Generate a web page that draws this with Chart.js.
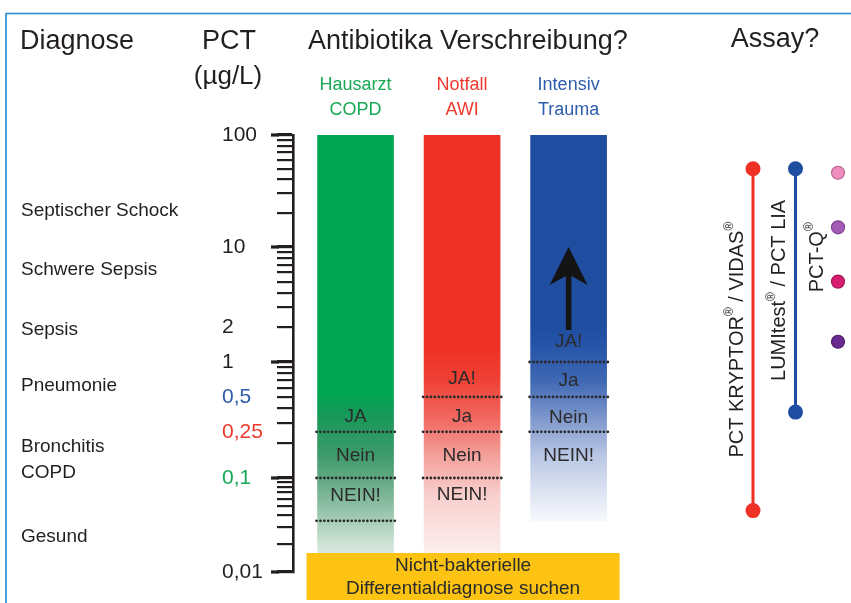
<!DOCTYPE html>
<html>
<head>
<meta charset="utf-8">
<script src="https://cdn.jsdelivr.net/npm/chart.js@4.4.1/dist/chart.umd.min.js"></script>
<style>
  html, body { margin: 0; padding: 0; background: #fff; }
  #wrap { position: relative; width: 851px; height: 603px; }
  #wrap canvas { position: absolute; left: 0; top: 0; }
</style>
</head>
<body>
<div id="wrap">
  <canvas id="main" width="851" height="603"></canvas>
  <canvas id="assay" width="851" height="603"></canvas>
</div>
<script>
// PCT (µg/L) guide: diagnosis, antibiotic decision per setting, assay ranges

// Settings (bars)
const settings = [['Hausarzt', 'COPD'], ['Notfall', 'AWI'], ['Intensiv', 'Trauma']];
const barLow = [0.013, 0.013, 0.035];
const barHigh = [100, 100, 100];
const solidDownTo = [0.5, 1.3, 2];

// Cut-offs (dotted lines) and decision labels per setting
const cutoffs = [[0.25, 0.1, 0.035], [0.5, 0.25, 0.1], [1, 0.5, 0.25]];
const decisions = [['JA', 'Nein', 'NEIN!'], ['JA!', 'Ja', 'Nein', 'NEIN!'], ['JA!', 'Ja', 'Nein', 'NEIN!']];
const decisionPct = [[0.34, 0.155, 0.064], [0.71, 0.335, 0.155, 0.066], [1.5, 0.69, 0.33, 0.155]];

// Arrow in the ICU bar
const arrowFrom = 1.9;
const arrowTo = 10;

// Diagnoses and typical PCT level
const diagnoses = ['Septischer Schock', 'Schwere Sepsis', 'Sepsis', 'Pneumonie', 'Bronchitis\nCOPD', 'Gesund'];
const diagnosisPct = [21, 6.3, 1.9, 0.63, 0.143, 0.0236];

// PCT axis
const yTicks = [];
for (let e = -2; e <= 1; e++) for (let m = 1; m <= 9; m++) yTicks.push(parseFloat(m + 'e' + e));
yTicks.push(100, 0.25);
const yTickLabels = [100, 10, 2, 1, 0.5, 0.25, 0.1, 0.01];
const majorTicks = [0.01, 0.1, 1, 10, 100];

// Assays
const assays = ['PCT KRYPTOR® / VIDAS®', 'LUMItest® / PCT LIA', 'PCT-Q®'];
const kryptorRange = [0.045, 50];
const lumitestRange = [0.37, 50];
const pctqLevels = [46, 15, 5, 1.5];

// Styles
const FONT = "'Liberation Sans', Arial, sans-serif";
const INK = '#231f20';
const GREEN = '#00a651', RED = '#ee3124', BLUE = '#1f4ea1';
const headColors = ['#17a955', '#ee3a2e', '#2d5dac'];
const tickColors = { 0.5: '#2d5dac', 0.25: '#ee3a2e', 0.1: '#17a955' };
const fades = [
  [[0.5, '#04a252'], [0.34, '#17995a'], [0.155, '#3f9a6b'], [0.066, '#7bb596'], [0.02, '#cde2d5'], [0.013, '#e4efe8']],
  [[1.3, '#ee3124'], [0.71, '#ef4035'], [0.335, '#f0675e'], [0.155, '#f4a09b'], [0.066, '#f8cfcd'], [0.013, '#fdf3f2']],
  [[2, '#1f4ea1'], [1.5, '#2352a6'], [0.69, '#3f68b4'], [0.33, '#7d97cc'], [0.155, '#b9c7e4'], [0.06, '#e3e9f5'], [0.035, '#f6f8fc']]
];
const pctqFill = ['#ee8fbf', '#a35cb6', '#d81c70', '#6b2a8e'];
const pctqEdge = ['#b86690', '#7e4290', '#a51556', '#4f1d6a'];

// Relative heights of the four decades, bottom up, as drawn in the original
const decadePx = [94, 116, 115, 112];
const decadeTotal = decadePx.reduce((a, b) => a + b, 0);

class PctScale extends Chart.LogarithmicScale {
  getPixelForValue(value) {
    if (value === undefined || value === 0) value = this.min;
    if (value === null || isNaN(value)) return NaN;
    let d = Math.log10(value) - Math.log10(this.min);
    let acc = 0;
    for (let k = 0; k < decadePx.length; k++) {
      if (d <= 1 || k === decadePx.length - 1) { acc += d * decadePx[k]; break; }
      acc += decadePx[k];
      d -= 1;
    }
    return this.getPixelForDecimal(acc / decadeTotal);
  }
  getValueForPixel(pixel) {
    let acc = this.getDecimalForPixel(pixel) * decadeTotal;
    let d = 0;
    for (let k = 0; k < decadePx.length; k++) {
      if (acc <= decadePx[k] || k === decadePx.length - 1) { d += acc / decadePx[k]; break; }
      acc -= decadePx[k];
      d += 1;
    }
    return this.min * Math.pow(10, d);
  }
}
PctScale.id = 'pctlog';
PctScale.defaults = {};
Chart.register(PctScale);

function barFill(ctx) {
  const chart = ctx.chart;
  if (!chart.chartArea || ctx.type !== 'data') return GREEN;
  const i = ctx.dataIndex;
  const y = chart.scales.y;
  const top = y.getPixelForValue(barHigh[i]);
  const bot = y.getPixelForValue(barLow[i]);
  const g = chart.ctx.createLinearGradient(0, top, 0, bot);
  const solid = [GREEN, RED, BLUE][i];
  g.addColorStop(0, solid);
  g.addColorStop(Math.max(0, (y.getPixelForValue(solidDownTo[i]) - top) / (bot - top)), solid);
  fades[i].forEach(([v, c]) => {
    const f = (y.getPixelForValue(v) - top) / (bot - top);
    g.addColorStop(Math.min(1, Math.max(0, f)), c);
  });
  return g;
}

function text(ctx, str, x, y, size, color, align) {
  ctx.font = size + 'px ' + FONT;
  ctx.fillStyle = color || INK;
  ctx.textAlign = align || 'left';
  ctx.textBaseline = 'middle';
  ctx.fillText(str, x, y);
}

// Text with superscript ®, centred on (0, 0)
function richText(ctx, str, size) {
  const parts = str.split('®');
  const sup = Math.round(size * 0.58);
  let w = 0;
  parts.forEach((p, k) => {
    ctx.font = size + 'px ' + FONT; w += ctx.measureText(p).width;
    if (k < parts.length - 1) { ctx.font = sup + 'px ' + FONT; w += ctx.measureText('®').width; }
  });
  let x = -w / 2;
  ctx.textAlign = 'left';
  ctx.textBaseline = 'middle';
  ctx.fillStyle = INK;
  parts.forEach((p, k) => {
    ctx.font = size + 'px ' + FONT;
    ctx.fillText(p, x, 0);
    x += ctx.measureText(p).width;
    if (k < parts.length - 1) {
      ctx.font = sup + 'px ' + FONT;
      ctx.fillText('®', x, -size * 0.38);
      x += ctx.measureText('®').width;
    }
  });
}

const decorations = {
  id: 'decorations',
  beforeDraw(chart) {
    const ctx = chart.ctx;
    ctx.save();
    // frame
    ctx.strokeStyle = '#2389d3';
    ctx.lineWidth = 1.6;
    ctx.beginPath();
    ctx.moveTo(6, 603); ctx.lineTo(6, 13.5); ctx.lineTo(851, 13.5);
    ctx.stroke();
    // headers
    text(ctx, 'Diagnose', 20, 42, 27);
    text(ctx, 'PCT', 229, 42, 27, INK, 'center');
    text(ctx, '(µg/L)', 228, 77, 26, INK, 'center');
    text(ctx, 'Antibiotika Verschreibung?', 308, 42, 27);
    text(ctx, 'Assay?', 775, 40, 27, INK, 'center');
    // diagnoses
    const y = chart.scales.y;
    diagnoses.forEach((d, i) => {
      const lines = d.split('\n');
      const yc = y.getPixelForValue(diagnosisPct[i]);
      lines.forEach((l, k) => text(ctx, l, 21, yc + (k - (lines.length - 1) / 2) * 26, 19));
    });
    ctx.restore();
  },
  afterDraw(chart) {
    const ctx = chart.ctx;
    const y = chart.scales.y;
    const bars = chart.getDatasetMeta(0).data;
    ctx.save();
    // longer decade ticks
    ctx.strokeStyle = INK;
    ctx.lineWidth = 3.2;
    majorTicks.forEach(v => {
      const py = Math.round(y.getPixelForValue(v));
      ctx.beginPath(); ctx.moveTo(y.right - 22, py); ctx.lineTo(y.right - 14, py); ctx.stroke();
    });
    // dotted cut-off lines
    ctx.strokeStyle = '#2a2a2a';
    ctx.lineWidth = 2.8;
    ctx.lineCap = 'round';
    ctx.setLineDash([0.01, 3.9]);
    bars.forEach((b, i) => {
      cutoffs[i].forEach(v => {
        const py = y.getPixelForValue(v);
        ctx.beginPath(); ctx.moveTo(b.x - b.width / 2 - 1, py); ctx.lineTo(b.x + b.width / 2 + 3, py); ctx.stroke();
      });
    });
    ctx.setLineDash([]);
    // decision labels
    bars.forEach((b, i) => {
      decisions[i].forEach((d, k) => text(ctx, d, b.x, y.getPixelForValue(decisionPct[i][k]), 19, '#2b2b2b', 'center'));
    });
    // arrow
    const b = bars[2];
    const yT = y.getPixelForValue(arrowTo), yB = y.getPixelForValue(arrowFrom);
    ctx.fillStyle = '#141414';
    ctx.beginPath();
    ctx.moveTo(b.x, yT);
    ctx.lineTo(b.x + 19, yT + 38);
    ctx.lineTo(b.x + 2.8, yT + 29);
    ctx.lineTo(b.x + 2.8, yB);
    ctx.lineTo(b.x - 2.8, yB);
    ctx.lineTo(b.x - 2.8, yT + 29);
    ctx.lineTo(b.x - 19, yT + 38);
    ctx.closePath();
    ctx.fill();
    // yellow box
    const left = bars[0].x - bars[0].width / 2 - 11;
    const right = bars[2].x + bars[2].width / 2 + 13;
    const top = chart.chartArea.bottom - 19;
    ctx.fillStyle = '#fcc312';
    ctx.fillRect(left, top, right - left, 47);
    text(ctx, 'Nicht-bakterielle', (left + right) / 2, top + 13, 19, '#2b2b2b', 'center');
    text(ctx, 'Differentialdiagnose suchen', (left + right) / 2, top + 36, 19, '#2b2b2b', 'center');
    ctx.restore();
  }
};

const main = new Chart(document.getElementById('main'), {
  type: 'bar',
  data: {
    datasets: [{
      data: settings.map((s, i) => ({ x: i, y: [barLow[i], barHigh[i]] })),
      backgroundColor: barFill,
      borderWidth: 0,
      barThickness: 76
    }]
  },
  options: {
    responsive: false,
    devicePixelRatio: 1,
    animation: false,
    events: [],
    layout: { padding: { left: 222, right: 211, top: 73, bottom: 31 } },
    plugins: { legend: { display: false }, tooltip: { enabled: false } },
    scales: {
      x: {
        type: 'linear', position: 'top', min: -0.587, max: 2.67, offset: false,
        afterBuildTicks: s => { s.ticks = settings.map((_, i) => ({ value: i })); },
        afterFit: s => { s.height = 62; },
        grid: { display: false, drawTicks: false },
        border: { display: false },
        ticks: {
          autoSkip: false, maxRotation: 0, padding: 12.5,
          callback: v => settings[v],
          color: c => headColors[c.index],
          font: { family: FONT, size: 18, lineHeight: 1.39 }
        }
      },
      y: {
        type: 'pctlog', position: 'left', min: 0.01, max: 100,
        afterBuildTicks: s => { s.ticks = yTicks.map(v => ({ value: v })); },
        afterFit: s => { s.width = 71; },
        grid: {
          drawOnChartArea: false, drawTicks: true, tickLength: 16,
          color: c => (c.tick && c.tick.value === 0.25) ? 'rgba(0,0,0,0)' : INK,
          lineWidth: c => (c.tick && majorTicks.includes(c.tick.value)) ? 3.2 : 2.2
        },
        border: { display: true, color: INK, width: 2.6 },
        ticks: {
          autoSkip: false, crossAlign: 'far', padding: 0,
          callback: v => yTickLabels.includes(v) ? String(v).replace('.', ',') : '',
          color: c => (c.tick && tickColors[c.tick.value]) || INK,
          font: { family: FONT, size: 21 }
        }
      }
    }
  },
  plugins: [decorations]
});

// Assay ranges, drawn on the same PCT scale
const assayLabels = {
  id: 'assayLabels',
  afterDraw(chart) {
    const ctx = chart.ctx;
    const x = chart.scales.x;
    const gap = [16, 16, 21];
    chart.data.datasets.forEach((ds, i) => {
      const ys = chart.getDatasetMeta(i).data.map(p => p.y);
      const yc = (Math.min(...ys) + Math.max(...ys)) / 2;
      ctx.save();
      ctx.translate(x.getPixelForValue(i) - gap[i], yc);
      ctx.rotate(-Math.PI / 2);
      richText(ctx, assays[i], 20);
      ctx.restore();
    });
  }
};

const assayChart = new Chart(document.getElementById('assay'), {
  type: 'line',
  data: {
    labels: assays,
    datasets: [
      {
        data: kryptorRange.map(v => ({ x: assays[0], y: v })),
        borderColor: RED, backgroundColor: RED, borderWidth: 3,
        pointRadius: 7.5, pointBorderWidth: 0, clip: false
      },
      {
        data: lumitestRange.map(v => ({ x: assays[1], y: v })),
        borderColor: BLUE, backgroundColor: BLUE, borderWidth: 3,
        pointRadius: 7.5, pointBorderWidth: 0, clip: false
      },
      {
        data: pctqLevels.map(v => ({ x: assays[2], y: v })),
        showLine: false, pointRadius: 6.5, pointBorderWidth: 1.2,
        pointBackgroundColor: pctqFill, pointBorderColor: pctqEdge, clip: false
      }
    ]
  },
  options: {
    responsive: false,
    devicePixelRatio: 1,
    animation: false,
    events: [],
    layout: { padding: { left: 753, right: 13, top: 135, bottom: 31 } },
    plugins: { legend: { display: false }, tooltip: { enabled: false } },
    scales: {
      x: { type: 'category', offset: false, display: false },
      y: { type: 'pctlog', min: 0.01, max: 100, display: false }
    }
  },
  plugins: [assayLabels]
});
</script>
</body>
</html>
